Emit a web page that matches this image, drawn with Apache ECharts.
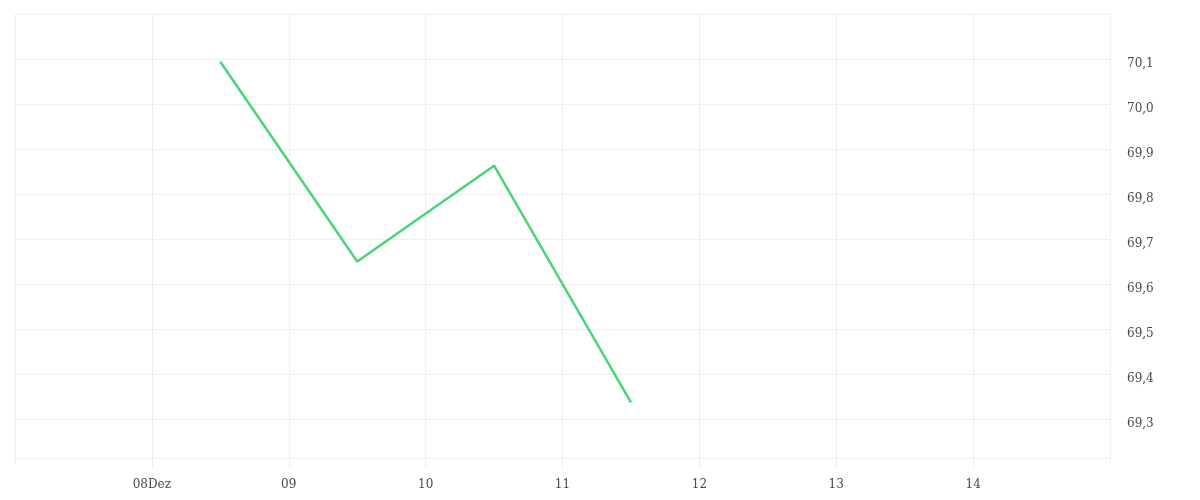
<!DOCTYPE html>
<html>
<head>
<meta charset="utf-8">
<script src="https://cdn.jsdelivr.net/npm/echarts@6/dist/echarts.min.js"></script>
<style>html,body{margin:0;padding:0;background:#fff;}#c{width:1200px;height:500px;}</style>
</head>
<body>
<div id="c"></div>
<script>
const dates = ['2023-12-08T12:00Z', '2023-12-09T12:00Z', '2023-12-10T12:00Z', '2023-12-11T12:00Z'];
const values = [70.094, 69.65, 69.863, 69.337];
const dayLabels = ['07', '08Dez', '09', '10', '11', '12', '13', '14', '15'];

const start = Date.UTC(2023, 11, 7);
const dayMs = 86400000;
const seriesData = dates.map((d, i) => [(Date.parse(d) - start) / dayMs, values[i]]);

const chart = echarts.init(document.getElementById('c'));
const fontFamily = 'DejaVu Serif';
chart.setOption({
  animation: false,
  grid: { left: 15, right: 90, top: 14, bottom: 36, containLabel: false },
  xAxis: {
    type: 'value', min: 0, max: 8, interval: 1, offset: -6,
    axisLine: { show: true, lineStyle: { color: '#eeeeee' } },
    axisTick: { show: true, length: 10, lineStyle: { color: '#eeeeee' } },
    splitLine: { show: true, lineStyle: { color: '#eeeeee', width: 1 } },
    axisLabel: {
      showMinLabel: false, showMaxLabel: false, margin: 21,
      color: '#4a4a4a', fontSize: 12, fontFamily: fontFamily,
      formatter: v => dayLabels[Math.round(v)]
    }
  },
  yAxis: {
    type: 'value', position: 'right', min: 69.2, max: 70.2, interval: 0.1,
    axisLine: { show: false }, axisTick: { show: false },
    splitLine: { show: true, showMinLine: false, lineStyle: { color: '#eeeeee', width: 1 } },
    axisLabel: {
      showMinLabel: false, showMaxLabel: false, margin: 17,
      color: '#4a4a4a', fontSize: 12, fontFamily: fontFamily,
      formatter: v => '{a|' + v.toFixed(1).replace('.', ',') + '}',
      rich: { a: { padding: [10, 0, 0, 0], color: '#4a4a4a', fontSize: 12, fontFamily: fontFamily } }
    }
  },
  series: [{
    type: 'line', data: seriesData, symbol: 'none',
    lineStyle: { color: '#4cd47a', width: 2.5 }
  }]
});
</script>
</body>
</html>
